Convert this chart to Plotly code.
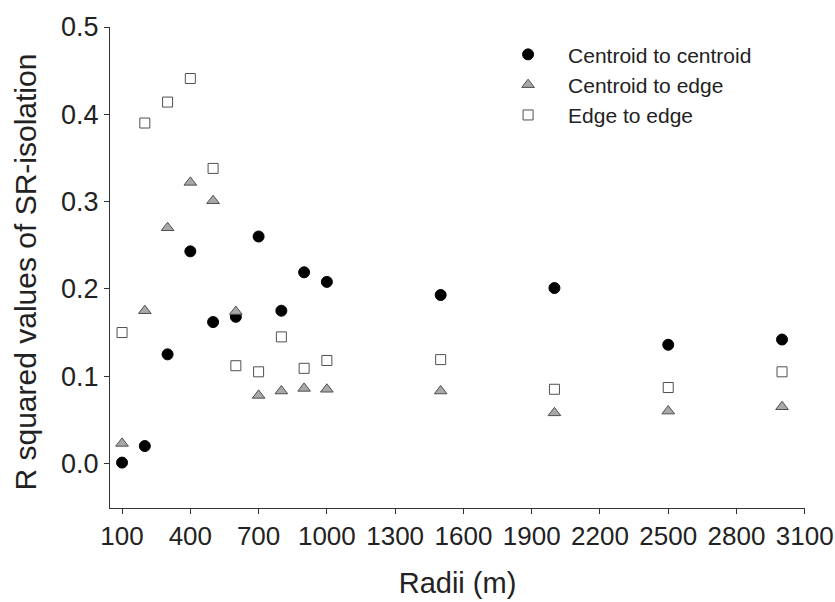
import plotly.graph_objects as go

radii = [100, 200, 300, 400, 500, 600, 700, 800, 900, 1000, 1500, 2000, 2500, 3000]
centroid_to_centroid = [0.001, 0.020, 0.125, 0.243, 0.162, 0.168, 0.260, 0.175, 0.219, 0.208, 0.193, 0.201, 0.136, 0.142]
centroid_to_edge = [0.023, 0.175, 0.270, 0.322, 0.301, 0.174, 0.078, 0.083, 0.086, 0.085, 0.083, 0.058, 0.060, 0.065]
edge_to_edge = [0.150, 0.390, 0.414, 0.441, 0.338, 0.112, 0.105, 0.145, 0.109, 0.118, 0.119, 0.085, 0.087, 0.105]

x_ticks = list(range(100, 3101, 300))
y_ticks = [0.0, 0.1, 0.2, 0.3, 0.4, 0.5]

font_family = "Liberation Sans, Arial, sans-serif"
text_color = "#222222"

fig = go.Figure()
fig.add_trace(go.Scatter(
    x=radii, y=centroid_to_centroid, mode="markers", name="Centroid to centroid",
    marker=dict(symbol="circle", size=11, color="black", line=dict(color="black", width=1)),
))
fig.add_trace(go.Scatter(
    x=radii, y=centroid_to_edge, mode="markers", name="Centroid to edge",
    marker=dict(symbol="triangle-up", size=11, color="#a8a8a8", line=dict(color="#505050", width=1)),
))
fig.add_trace(go.Scatter(
    x=radii, y=edge_to_edge, mode="markers", name="Edge to edge",
    marker=dict(symbol="square", size=10, color="white", line=dict(color="#505050", width=1)),
))

fig.update_layout(
    width=835, height=602,
    margin=dict(l=110, r=30, t=23, b=94),
    paper_bgcolor="white", plot_bgcolor="white",
    font=dict(family=font_family, color=text_color),
    showlegend=True,
    legend=dict(
        x=0.544, y=0.985, xanchor="left", yanchor="top",
        font=dict(size=21, color=text_color),
        bgcolor="rgba(0,0,0,0)", itemwidth=70, tracegroupgap=0,
    ),
    xaxis=dict(
        range=[47, 3101], tickvals=x_ticks, ticktext=[str(v) for v in x_ticks],
        showgrid=False, zeroline=False, showline=True, linecolor="#333333", linewidth=1,
        ticks="outside", ticklen=5, tickcolor="#333333",
        tickfont=dict(size=26, color=text_color), ticklabeloverflow="allow",
        automargin=False,
        title=dict(text="Radii (m)", font=dict(size=29, color=text_color), standoff=22),
    ),
    yaxis=dict(
        range=[-0.051, 0.5], tickvals=y_ticks, tickformat=".1f",
        showgrid=False, zeroline=False, showline=True, linecolor="#333333", linewidth=1,
        ticks="outside", ticklen=5, tickcolor="#333333",
        tickfont=dict(size=27, color=text_color),
    ),
    annotations=[dict(
        text="R squared values of SR-isolation", textangle=-90,
        xref="paper", yref="paper", x=-0.122, y=0.49, xanchor="center", yanchor="middle",
        showarrow=False, font=dict(size=30, color=text_color),
    )],
)

fig.write_html("out.html")
